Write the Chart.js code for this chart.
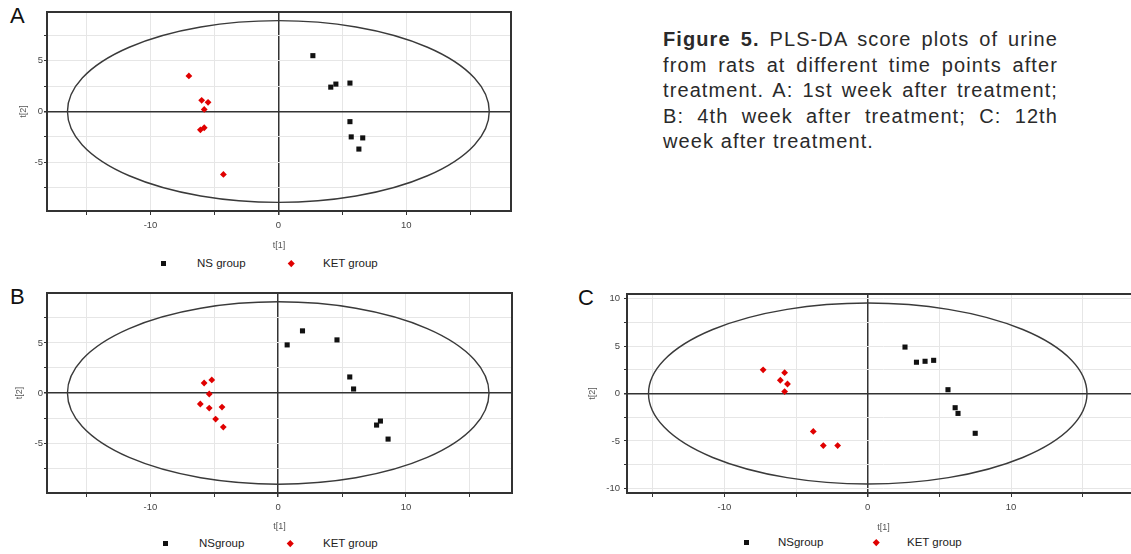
<!DOCTYPE html>
<html>
<head>
<meta charset="utf-8">
<script src="https://cdn.jsdelivr.net/npm/chart.js@4.4.1/dist/chart.umd.min.js"></script>
<style>
html, body { margin: 0; padding: 0; background: #fff; }
body { position: relative; width: 1131px; height: 554px; overflow: hidden; font-family: "Liberation Sans", Arial, sans-serif; }
canvas { position: absolute; }
.tag { position: absolute; font-size: 22px; color: #111; line-height: 1; }
.caption { position: absolute; left: 663px; top: 27px; width: 395px; font-size: 20px; line-height: 25.5px; letter-spacing: 1.1px; color: #2a2a2a; text-align: justify; text-align-last: left; }
.caption b { font-weight: bold; }
.leg { position: absolute; font-size: 11.5px; color: #222; line-height: 14px; white-space: nowrap; }
.sq { position: absolute; width: 5px; height: 5px; background: #111; }
.dm { position: absolute; width: 4.5px; height: 4.5px; background: #e00000; transform: rotate(45deg); }
</style>
</head>
<body>
<div class="tag" style="left:10px;top:5px">A</div>
<div class="tag" style="left:10px;top:286px">B</div>
<div class="tag" style="left:578px;top:287px">C</div>

<div class="caption"><b>Figure 5.</b> PLS-DA score plots of urine from rats at different time points after treatment. A: 1st week after treatment; B: 4th week after treatment; C: 12th week after treatment.</div>

<canvas id="chartA" width="540" height="252" style="left:0;top:0"></canvas>
<canvas id="chartB" width="540" height="252" style="left:0;top:281px"></canvas>
<canvas id="chartC" width="580" height="252" style="left:580px;top:282px"></canvas>

<div id="legends"></div>

<script>
// week 1 scores [t1, t2]
const nsA = [[2.7, 5.5], [4.1, 2.4], [4.5, 2.7], [5.6, 2.8], [5.6, -1.0], [5.7, -2.5], [6.6, -2.6], [6.3, -3.7]];
const ketA = [[-7.0, 3.5], [-6.0, 1.1], [-5.5, 0.9], [-5.8, 0.2], [-6.1, -1.8], [-5.8, -1.6], [-4.3, -6.2]];

// week 4
const nsB = [[0.7, 4.8], [1.9, 6.2], [4.6, 5.3], [5.6, 1.6], [5.9, 0.4], [7.7, -3.2], [8.0, -2.8], [8.6, -4.6]];
const ketB = [[-5.8, 1.0], [-5.2, 1.3], [-5.4, -0.1], [-6.1, -1.1], [-5.4, -1.5], [-4.4, -1.4], [-4.9, -2.6], [-4.3, -3.4]];

// week 12
const nsC = [[2.6, 4.9], [3.4, 3.3], [4.0, 3.4], [4.6, 3.5], [5.6, 0.4], [6.1, -1.5], [6.3, -2.1], [7.5, -4.2]];
const ketC = [[-7.3, 2.5], [-6.1, 1.4], [-5.8, 2.2], [-5.6, 1.0], [-5.8, 0.2], [-3.8, -4.0], [-3.1, -5.5], [-2.1, -5.5]];

// Hotelling T2 ellipse half-axes per panel
const ellipseA = [16.5, 8.95];
const ellipseB = [16.5, 9.1];
const ellipseC = [15.3, 9.55];

const groupNames = ['NS group', 'KET group'];

const ellipsePlugin = {
    id: 'ellipse',
    beforeDatasetsDraw(chart, args, opts) {
        const {ctx, chartArea, scales: {x, y}} = chart;
        const cx = x.getPixelForValue(0), cy = y.getPixelForValue(0);
        const rx = x.getPixelForValue(opts.axes[0]) - cx;
        const ry = cy - y.getPixelForValue(opts.axes[1]);
        ctx.save();
        ctx.beginPath();
        ctx.rect(chartArea.left, chartArea.top, chartArea.width, chartArea.height);
        ctx.clip();
        ctx.beginPath();
        ctx.ellipse(cx, cy, rx, ry, 0, 0, Math.PI * 2);
        ctx.strokeStyle = '#3a3a3a';
        ctx.lineWidth = 1.4;
        ctx.stroke();
        ctx.restore();
    },
    afterDatasetsDraw(chart) {
        const {ctx, chartArea: a} = chart;
        ctx.save();
        ctx.strokeStyle = '#333';
        ctx.lineWidth = 2;
        ctx.strokeRect(a.left, a.top, a.width, a.height);
        ctx.restore();
    }
};

function toPoints(pairs) {
    return pairs.map(p => ({x: p[0], y: p[1]}));
}

function makePanel(id, ns, ket, ell, cfg) {
    const gridColor = ctx => ctx.tick && ctx.tick.value === 0 ? '#333' : '#e6e6e6';
    const gridWidth = ctx => ctx.tick && ctx.tick.value === 0 ? 1.5 : 1;
    new Chart(document.getElementById(id), {
        type: 'scatter',
        data: {
            datasets: [{
                label: groupNames[0],
                data: toPoints(ns),
                pointStyle: 'rect',
                pointRadius: 3.6,
                backgroundColor: '#111',
                borderColor: '#111',
                borderWidth: 0
            }, {
                label: groupNames[1],
                data: toPoints(ket),
                pointStyle: 'rectRot',
                pointRadius: 3.4,
                backgroundColor: '#e00000',
                borderColor: '#e00000',
                borderWidth: 0
            }]
        },
        options: {
            responsive: false,
            animation: false,
            events: [],
            layout: { padding: cfg.pad },
            plugins: {
                legend: { display: false },
                tooltip: { enabled: false },
                ellipse: { axes: ell }
            },
            scales: {
                x: {
                    type: 'linear',
                    min: cfg.xr[0], max: cfg.xr[1],
                    afterFit: s => { s.height = cfg.xh; },
                    border: { display: false },
                    grid: { color: gridColor, lineWidth: gridWidth, tickColor: '#333', tickLength: 4 },
                    ticks: {
                        stepSize: 5, includeBounds: false, autoSkip: false, maxRotation: 0,
                        padding: 5, color: '#444', font: { size: 9.5, family: 'Liberation Sans' },
                        callback: v => (v % 10 === 0 ? String(v) : '')
                    },
                    title: { display: true, text: 't[1]', color: '#555', font: { size: 9, family: 'Liberation Sans' }, padding: { top: 0, bottom: cfg.xt } }
                },
                y: {
                    type: 'linear',
                    min: cfg.yr[0], max: cfg.yr[1],
                    afterFit: s => { s.width = 47; },
                    border: { display: false },
                    grid: { color: gridColor, lineWidth: gridWidth, tickColor: '#333', tickLength: 3 },
                    ticks: {
                        stepSize: 2.5, includeBounds: false, autoSkip: false,
                        padding: cfg.yp, color: '#444', font: { size: 9.5, family: 'Liberation Sans' },
                        callback: v => (v % 5 === 0 ? String(v) : '')
                    },
                    title: { display: true, text: 't[2]', color: '#555', font: { size: 9, family: 'Liberation Sans' }, padding: { top: cfg.yt, bottom: 0 } }
                }
            }
        },
        plugins: [ellipsePlugin]
    });
}

makePanel('chartA', nsA, ketA, ellipseA, {
    pad: { top: 12, right: 29, left: 0, bottom: 0 }, xr: [-18.1, 18.2], yr: [-9.8, 9.8], xh: 41, xt: 1.5, yt: 18.5, yp: 1
});
makePanel('chartB', nsB, ketB, ellipseB, {
    pad: { top: 12, right: 28, left: 0, bottom: 0 }, xr: [-18.1, 18.3], yr: [-9.98, 9.98], xh: 40, xt: 0.6, yt: 14.5, yp: 1
});
makePanel('chartC', nsC, ketC, ellipseC, {
    pad: { top: 12, right: 20, left: 0, bottom: 0 }, xr: [-16.8, 19.0], yr: [-10.5, 10.5], xh: 41, xt: 1.5, yt: 7.5, yp: 4
});

// legends under each panel: [square x, NS text x, diamond x, KET text x, centre y, NS label]
const legendRows = [
    [163, 197, 291, 323, 263, 'NS group'],
    [165, 199, 290, 323, 543, 'NSgroup'],
    [746, 778, 876, 907, 542, 'NSgroup']
];
const host = document.getElementById('legends');
legendRows.forEach(r => {
    host.insertAdjacentHTML('beforeend',
        `<span class="sq" style="left:${r[0] - 2.5}px;top:${r[4] - 2.5}px"></span>` +
        `<span class="leg" style="left:${r[1]}px;top:${r[4] - 7}px">${r[5]}</span>` +
        `<span class="dm" style="left:${r[2] - 2.25}px;top:${r[4] - 2.25}px"></span>` +
        `<span class="leg" style="left:${r[3]}px;top:${r[4] - 7}px">${groupNames[1]}</span>`);
});
</script>
</body>
</html>
